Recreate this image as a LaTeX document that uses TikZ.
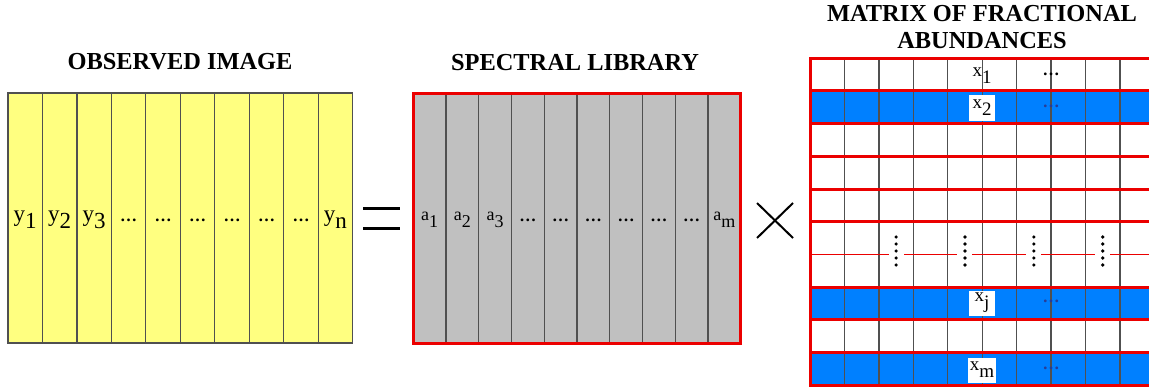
\documentclass[tikz,border=0pt]{standalone}
\usepackage{fontspec}
\setmainfont{Liberation Serif}
\usetikzlibrary{positioning}

\definecolor{imgyellow}{RGB}{255,255,128}
\definecolor{libgray}{RGB}{192,192,192}
\definecolor{rowblue}{RGB}{0,128,255}
\definecolor{gridred}{RGB}{235,0,0}
\definecolor{colline}{RGB}{80,80,80}
\definecolor{dotnavy}{RGB}{40,60,150}

\newcommand{\sublbl}[2]{#1\raisebox{-3.5pt}{#2}}
\newcommand{\celldots}{{\bfseries\fontsize{8.5}{8.5}\selectfont\ldots}}

\tikzset{
    title/.style={font=\bfseries\fontsize{12.2}{13.5}\selectfont, align=center},
    ylabel/.style={font=\fontsize{11.5}{11.5}\selectfont, inner sep=0pt},
    alabel/.style={font=\fontsize{9}{9}\selectfont, inner sep=0pt},
    xlabel/.style={font=\fontsize{9.5}{9.5}\selectfont, inner sep=1pt,
        minimum width=13pt, minimum height=12.5pt},
    xbox/.style={xlabel, fill=white},
    vdotbox/.style={fill=white, inner sep=0pt, minimum width=7.5pt, minimum height=16pt},
    thickred/.style={gridred, line width=1.5pt},
}

\begin{document}
\begin{tikzpicture}[x=0.5pt, y=-0.5pt]
    \clip (0,0) rectangle (1149,390);

    % observed image
    \node[title] (obstitle) at (180,62) {OBSERVED IMAGE};
    \draw[colline, fill=imgyellow, line width=0.6pt] (8,93) rectangle (352.7,343);
    \foreach \i in {1,...,9}
        \draw[colline, line width=0.6pt] ({8+\i*34.47},93) -- ++(0,250);
    \foreach \lab [count=\i] in {\sublbl{y}{1}, \sublbl{y}{2}, \sublbl{y}{3},
            \celldots, \celldots, \celldots, \celldots, \celldots, \celldots, \sublbl{y}{n}}
        \node[ylabel] (y\i) at ({8+(\i-0.5)*34.47},220) {\lab};

    % equals
    \draw[line width=1.5pt] (363,208) -- (400,208);
    \draw[line width=1.5pt] (363,228) -- (400,228);

    % spectral library
    \node[title] (libtitle) at (575,63) {SPECTRAL LIBRARY};
    \fill[libgray] (413.3,93.3) rectangle (740.7,343.3);
    \foreach \i in {1,...,9}
        \draw[colline, line width=0.6pt] ({413.3+\i*32.74},93.3) -- ++(0,250);
    \draw[thickred] (413.3,93.3) rectangle (740.7,343.3);
    \foreach \lab [count=\i] in {\sublbl{a}{1}, \sublbl{a}{2}, \sublbl{a}{3},
            \celldots, \celldots, \celldots, \celldots, \celldots, \celldots, \sublbl{a}{m}}
        \node[alabel] (a\i) at ({413.3+(\i-0.5)*32.74},220) {\lab};

    % times
    \draw[line width=1pt] (757,203) -- (793,238);
    \draw[line width=1pt] (757,238) -- (793,203);

    % matrix of fractional abundances
    \node[title] (abtitle) at (982,27) {MATRIX OF FRACTIONAL\\ABUNDANCES};
    \fill[white] (810,58.3) rectangle (1160,385.3);
    \foreach \r in {1,7,9}
        \fill[rowblue] (810,{58.3+\r*32.7}) rectangle (1160,{58.3+(\r+1)*32.7});
    \foreach \i in {1,...,10}
        \draw[colline, line width=0.7pt] ({810+\i*34.44},58.3) -- ++(0,327);
    \draw[gridred, line width=0.5pt] (810,254.5) -- ++(350,0);
    \foreach \c [count=\k] in {3,5,7,9} {
        \node[vdotbox] (vd\k) at ({810+(\c-0.5)*34.44},251) {};
        \foreach \d in {-2,...,2}
            \fill (vd\k.center) ++(0,{\d*7}) circle (0.9pt);
    }
    \foreach \r in {1,2,3,4,5,7,8,9}
        \draw[thickred] (810,{58.3+\r*32.7}) -- ++(350,0);
    \draw[thickred] (1160,58.3) -- (810,58.3) -- (810,385.3) -- (1160,385.3);

    \node[xlabel] (x1) at (982,76) {\sublbl{x}{1}};
    \node[xbox] (x2) at (982,108) {\sublbl{x}{2}};
    \node[xbox] (xj) at (982,303) {\sublbl{x}{j}};
    \node[xbox] (xm) at (982,370) {\sublbl{x}{m}};
    \node (d1) at (1051,74) {\celldots};
    \node[text=dotnavy] (d2) at (1051,106) {\celldots};
    \node[text=dotnavy] (dj) at (1051,301) {\celldots};
    \node[text=dotnavy] (dm) at (1051,368) {\celldots};
\end{tikzpicture}
\end{document}
